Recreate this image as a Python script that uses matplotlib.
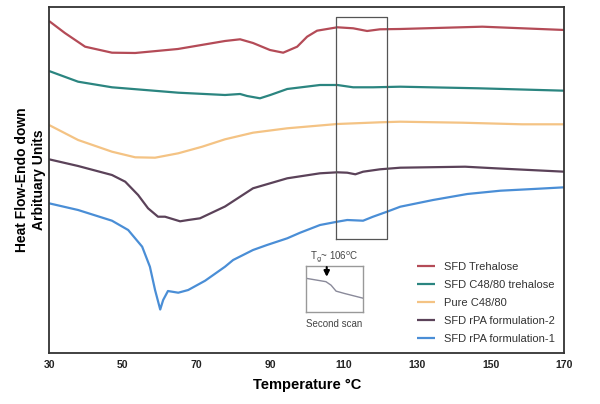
import matplotlib
matplotlib.use("Agg")
import matplotlib.pyplot as plt

plt.rcParams['font.family'] = ['Liberation Sans', 'DejaVu Sans']

# ---- data (temperature in °C, heat flow in arbitrary units) ----
tre_T = [30, 34.3, 39.8, 47.1, 53.4, 65.0, 77.8, 81.9, 85.4, 90.0, 93.6, 97.4, 100.1, 102.8,
         108.3, 112.6, 116.4, 119.9, 125.4, 147.7, 170]
tre_H = [332, 320, 306.3, 300.3, 300, 304, 312, 313.7, 310, 303, 300.3, 306.3, 316.3, 322.3,
         325.7, 324.7, 322, 323.7, 324, 326.3, 323]

c48t_T = [30, 37.9, 47.1, 56.1, 65.1, 77.8, 81.9, 83.8, 87.3, 90.1, 94.7, 103.6, 108.3, 112.6,
          118.0, 125.4, 146.6, 170]
c48t_H = [282, 271.3, 265.7, 263, 260.3, 258, 259, 257, 254.7, 258, 264, 268, 268, 265.7,
          265.7, 266.3, 264.7, 262.3]

c48_T = [30, 37.9, 47.1, 53.4, 58.8, 65.1, 71.6, 77.8, 85.4, 94.7, 108.3, 119.9, 125.4, 142.2,
         158.5, 170]
c48_H = [228, 213, 201.3, 195.7, 195.3, 199.7, 206.3, 213.7, 220.3, 224.7, 229, 230.7, 231.3,
         230.3, 228.7, 228.7]

f2_T = [30, 37.9, 47.1, 50.7, 54.2, 56.9, 59.6, 61.5, 65.6, 67.8, 71.0, 77.8, 85.4, 94.7,
        103.6, 108.3, 111.0, 113.2, 115.3, 119.9, 125.4, 143.0, 151.2, 170]
f2_H = [193.7, 187, 178, 171.3, 158, 144.7, 136.3, 136.3, 131.7, 133, 134.7, 146.5, 164.7, 174.7,
        179.7, 180.7, 180.3, 178.7, 181.3, 183.7, 185.3, 186.3, 184.7, 181.3]

f1_T = [30, 37.9, 47.1, 51.5, 55.3, 57.4, 58.8, 60.2, 61.0, 62.3, 65.1, 67.8, 72.4, 77.8, 80.0,
        85.4, 89.2, 94.7, 98.2, 103.6, 108.3, 111.0, 115.3, 118.0, 121.8, 125.4, 134.3, 143.6,
        152.6, 161.5, 170]
f1_H = [149.7, 143, 132.3, 123, 106.3, 86.3, 63, 43.5, 53, 62, 60.3, 63, 72.3, 86.3, 93,
        103, 108, 114.7, 120.3, 128, 131.3, 133, 132.3, 136.3, 141.3, 146.3, 153, 159,
        162.3, 164, 165.7]

labels = ["SFD Trehalose", "SFD C48/80 trehalose", "Pure C48/80",
          "SFD rPA formulation-2", "SFD rPA formulation-1"]
colors = ["#b44b57", "#2b8580", "#f4c384", "#5b4259", "#4a8ed6"]

xticks = [30, 50, 70, 90, 110, 130, 150, 170]

# highlighted Tg region on the main plot
box_T = [108.0, 121.8]
box_H = [114, 336]

# second-scan inset curve (relative units)
scan_x = [0, 0.353, 0.442, 0.53, 0.677, 0.995]
scan_y = [0.729, 0.655, 0.58, 0.451, 0.4, 0.3]
tg_arrow_x = 0.367

# ---- figure ----
fig = plt.figure(figsize=(6.0, 4.04), dpi=100)
ax = fig.add_axes([0.0817, 0.1262, 0.8591, 0.8565])

series = [(tre_T, tre_H), (c48t_T, c48t_H), (c48_T, c48_H), (f2_T, f2_H), (f1_T, f1_H)]
for (t, h), lab, col in zip(series, labels, colors):
    ax.plot(t, h, color=col, lw=1.6, label=lab, solid_capstyle='butt', solid_joinstyle='round')

ax.plot([box_T[0], box_T[1], box_T[1], box_T[0], box_T[0]],
        [box_H[0], box_H[0], box_H[1], box_H[1], box_H[0]],
        color="#555555", lw=0.9)

ax.set_xlim(30, 170)
ax.set_ylim(0, 346)
ax.set_xticks(xticks)
ax.set_xticklabels([str(v) for v in xticks], fontsize=7.5, fontweight='bold', color='#222222')
ax.set_yticks([])
ax.tick_params(axis='x', length=0, pad=5)
for s in ax.spines.values():
    s.set_color('#333333')
    s.set_linewidth(1.3)

ax.set_xlabel("Temperature °C", fontsize=10.5, fontweight='bold', labelpad=6)
ax.set_ylabel("Heat Flow-Endo down\nArbituary Units", fontsize=10, fontweight='bold',
              labelpad=2, linespacing=1.25)

leg = ax.legend(loc='upper left', bbox_to_anchor=(0.704, 0.278), frameon=False, fontsize=8,
                handlelength=1.6, handletextpad=0.8, labelspacing=0.72, borderpad=0)
for t in leg.get_texts():
    t.set_color('#333333')

# inset: second scan
ins = fig.add_axes([305.7 / 600, (404 - 312) / 404, 57.3 / 600, 46.3 / 404])
ins.plot(scan_x, scan_y, color='#8a8a9a', lw=1.0)
ins.set_xlim(0, 1)
ins.set_ylim(0, 1)
ins.set_xticks([])
ins.set_yticks([])
for s in ins.spines.values():
    s.set_color('#999999')
    s.set_linewidth(1.0)
ins.annotate("", xy=(tg_arrow_x, 0.70), xytext=(tg_arrow_x, 1.03),
             arrowprops=dict(arrowstyle='-|>', color='black', lw=1.5, mutation_scale=8),
             annotation_clip=False)
ins.text(0.5, 1.04, r"T$_{\rm g}$~ 106$^{\rm o}$C", transform=ins.transAxes, ha='center',
         va='bottom', fontsize=7, color='#444444')
ins.text(0.5, -0.15, "Second scan", transform=ins.transAxes, ha='center', va='top',
         fontsize=7, color='#444444')

fig.savefig("out.png", dpi=100)
